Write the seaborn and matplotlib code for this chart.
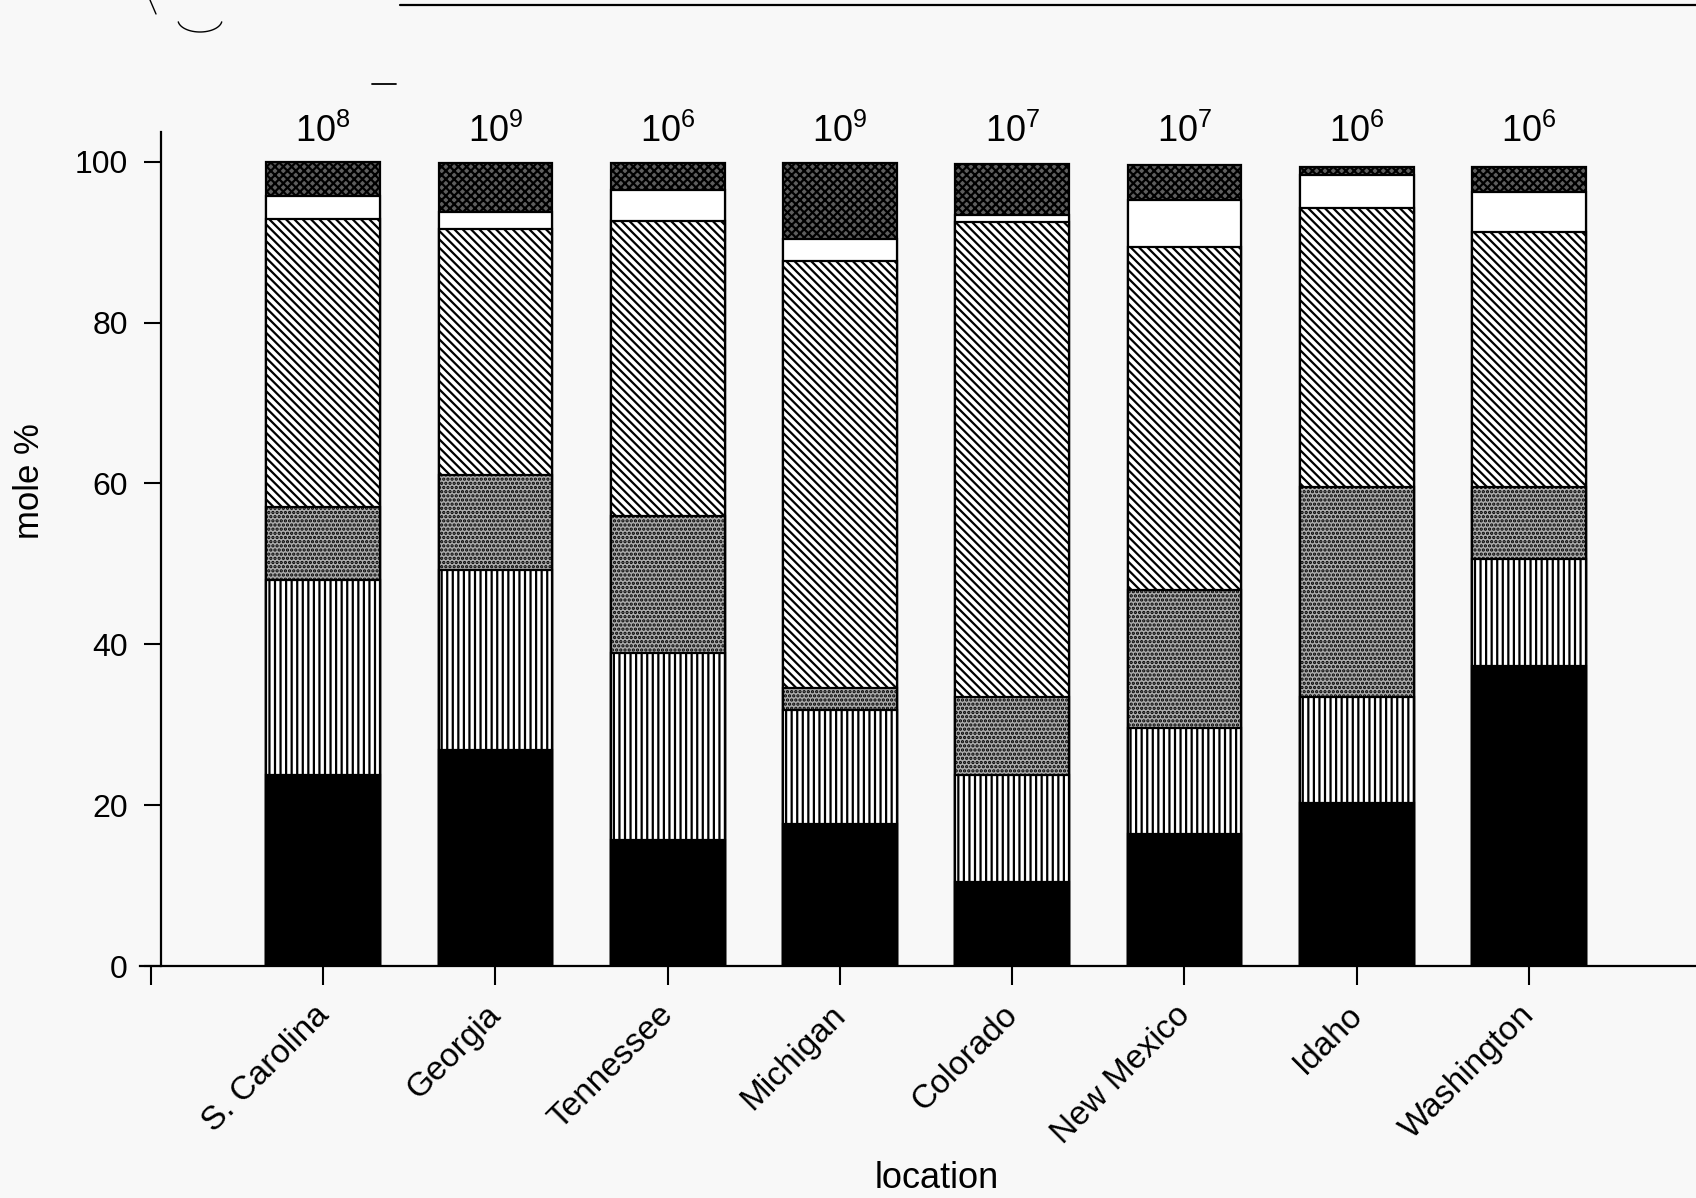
import numpy as np
import pandas as pd
import matplotlib
matplotlib.use("Agg")
import matplotlib.pyplot as plt
import seaborn as sns
from matplotlib.lines import Line2D
from matplotlib.transforms import ScaledTranslation

# ---------------- data ----------------
locations = ["S. Carolina", "Georgia", "Tennessee", "Michigan",
             "Colorado", "New Mexico", "Idaho", "Washington"]
exponents = [8, 9, 6, 9, 7, 7, 6, 6]
seg_black = [23.8, 26.8, 15.7, 17.6, 10.5, 16.4, 20.3, 37.3]
seg_vertical = [24.2, 22.5, 23.2, 14.2, 13.2, 13.2, 13.1, 13.3]
seg_speckle = [9.1, 11.7, 17.0, 2.8, 9.8, 17.1, 26.2, 8.9]
seg_diagonal = [35.8, 30.7, 36.7, 53.0, 59.0, 42.7, 34.6, 31.8]
seg_white = [2.9, 2.0, 3.9, 2.8, 0.9, 5.9, 4.2, 4.9]
seg_dark = [4.2, 6.1, 3.3, 9.4, 6.3, 4.3, 1.0, 3.2]
y_ticks = [0, 20, 40, 60, 80, 100]

# ---------------- style ----------------
sns.set_style("ticks")
plt.rcParams["font.family"] = ["Liberation Sans", "DejaVu Sans"]
plt.rcParams["mathtext.fontset"] = "custom"
plt.rcParams["mathtext.rm"] = "Liberation Sans"
plt.rcParams["mathtext.it"] = "Liberation Sans"
plt.rcParams["hatch.linewidth"] = 1.6
for k in ["text.color", "axes.labelcolor", "xtick.color", "ytick.color", "axes.edgecolor"]:
    plt.rcParams[k] = "black"
BG = "#f8f8f8"

layers = [  # bottom -> top
    ("black", seg_black, "black", None),
    ("vertical", seg_vertical, "white", "|||"),
    ("speckle", seg_speckle, "#acacac", "...."),
    ("diagonal", seg_diagonal, "white", "\\\\\\\\"),
    ("white", seg_white, "white", None),
    ("dark", seg_dark, "#5e5e5e", "xxxx"),
]

df = pd.DataFrame({"location": locations})
running = np.zeros(len(locations))
for name, vals, _, _ in layers:
    running = running + np.asarray(vals)
    df[name] = running

fig = plt.figure(figsize=(16.96, 11.98), dpi=100, facecolor=BG)
ax = fig.add_axes([140 / 1696, 232 / 1198, 1556 / 1696, 834 / 1198])
ax.set_facecolor(BG)

for name, _, face, hatch in reversed(layers):
    sns.barplot(data=df, x="location", y=name, color=face, hatch=hatch,
                edgecolor="black", linewidth=1.6, width=0.66, saturation=1,
                errorbar=None, ax=ax)

# exponent labels above bars
for i, e in enumerate(exponents):
    ax.text(i, 102.4, r"$\mathregular{10^{%d}}$" % e, ha="center", va="baseline",
            fontsize=26, clip_on=False)

ax.set_ylim(0, 103.7)
ax.set_xlim(-1.064, 7.97)
ax.set_yticks(y_ticks)
ax.set_xticks(list(range(-1, len(locations))))
ax.tick_params(axis="y", labelsize=23, length=12, width=1.5, direction="out", pad=12)
ax.tick_params(axis="x", length=14, width=1.5, direction="out", pad=10)
ax.set_xticklabels([""] + locations, rotation=45, ha="right",
                   rotation_mode="anchor", fontsize=24)
shift = ScaledTranslation(-0.10, 0.0, fig.dpi_scale_trans)
for lab in ax.get_xticklabels():
    lab.set_transform(lab.get_transform() + shift)

for s in ["top", "right"]:
    ax.spines[s].set_visible(False)
ax.spines["left"].set_position(("data", -0.942))
ax.spines["left"].set_linewidth(1.6)
ax.spines["bottom"].set_linewidth(1.6)

ax.set_xlabel("location", fontsize=26)
ax.set_ylabel("mole %", fontsize=25)
ax.xaxis.label.set_va("center")
ax.yaxis.label.set_va("center")
ax.xaxis.set_label_coords(0.512, -0.255)
ax.yaxis.set_label_coords(-0.0707, 0.5815)

# scan artefacts: top rule, small dash and a pen scribble
fig.add_artist(Line2D([400 / 1696, 1.0], [1 - 5 / 1198, 1 - 5 / 1198],
                      color="black", lw=1.6))
fig.add_artist(Line2D([372 / 1696, 396 / 1696], [1 - 84 / 1198, 1 - 84 / 1198],
                      color="black", lw=1.3))
t = np.linspace(0, 1, 20)
fig.add_artist(Line2D((150 + 6 * t) / 1696, 1 - (14 * t) / 1198, color="black", lw=1.0))
th = np.linspace(np.pi * 1.05, np.pi * 1.95, 30)
fig.add_artist(Line2D((200 + 22 * np.cos(th)) / 1696, 1 - (20 - 12 * np.sin(th)) / 1198,
                      color="black", lw=1.0))

fig.savefig("out.png", dpi=100, facecolor=BG)
